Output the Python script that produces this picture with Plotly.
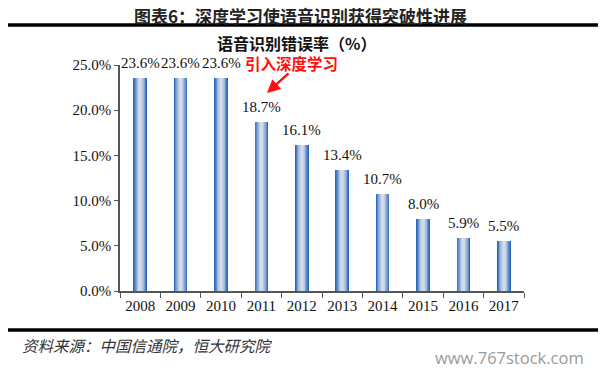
import plotly.graph_objects as go

years = ["2008", "2009", "2010", "2011", "2012", "2013", "2014", "2015", "2016", "2017"]
error_rate = [23.6, 23.6, 23.6, 18.7, 16.1, 13.4, 10.7, 8.0, 5.9, 5.5]
y_ticks = [0, 5, 10, 15, 20, 25]
y_tick_labels = ["0.0%", "5.0%", "10.0%", "15.0%", "20.0%", "25.0%"]

fig = go.Figure()

# simulated horizontal gradient: nested overlaid bars from dark edge to light centre
layers = [
    (0.34, "#2a68bc"),
    (0.30, "#4479c4"),
    (0.26, "#628fcc"),
    (0.22, "#81a4d4"),
    (0.18, "#9db6da"),
    (0.14, "#b4c6df"),
    (0.10, "#c5d2e4"),
    (0.06, "#d2dbe8"),
]
for w, c in layers:
    fig.add_trace(go.Bar(
        x=years, y=error_rate, width=w,
        marker=dict(color=c, line=dict(width=0)),
        hoverinfo="skip", showlegend=False,
    ))

W, H = 607, 374
L, R, T, B = 120, 83, 65, 83

fig.update_layout(
    width=W, height=H,
    margin=dict(l=L, r=R, t=T, b=B),
    paper_bgcolor="white", plot_bgcolor="white",
    barmode="overlay",
    bargap=0,
    font=dict(family="Liberation Serif", size=15, color="#111111"),
)
fig.update_xaxes(
    type="category", range=[-0.5, len(years) - 0.5],
    showline=True, linecolor="#555555", linewidth=1.5,
    ticks="outside", tickson="boundaries", ticklen=5, tickcolor="#555555",
    tickfont=dict(family="Liberation Serif", size=15, color="#111111"),
    showgrid=False, fixedrange=True,
)
fig.update_yaxes(
    range=[0, 25], tickvals=y_ticks, ticktext=y_tick_labels,
    showline=True, linecolor="#555555", linewidth=1.5,
    ticks="outside", ticklen=4, tickcolor="#555555",
    tickfont=dict(family="Liberation Serif", size=15, color="#111111"),
    showgrid=False, zeroline=False, fixedrange=True,
)

# data labels (category index positions)
for i, v in enumerate(error_rate):
    fig.add_annotation(x=i, y=v, xref="x", yref="y", text=f"{v:.1f}%",
                       showarrow=False, yanchor="middle", yshift=15,
                       font=dict(family="Liberation Serif", size=15, color="#111111"))

def paper_xy(px, py):
    # page pixel coords -> paper coords
    pw = W - L - R
    ph = H - T - B
    return (px - L) / pw, (H - B - py) / ph

x0, y0 = paper_xy(300, 15)
fig.add_annotation(text="<b>图表6：深度学习使语音识别获得突破性进展</b>", xref="paper", yref="paper",
                   x=x0, y=y0, xanchor="center", yanchor="middle", showarrow=False,
                   font=dict(family="Noto Sans CJK SC", size=17, color="#222222"))
x0, y0 = paper_xy(296, 43)
fig.add_annotation(text="<b>语音识别错误率（%）</b>", xref="paper", yref="paper",
                   x=x0, y=y0, xanchor="center", yanchor="middle", showarrow=False,
                   font=dict(family="Noto Sans CJK SC", size=16, color="#111111"))
x0, y0 = paper_xy(20, 345)
fig.add_annotation(text="<i>资料来源：中国信通院，恒大研究院</i>", xref="paper", yref="paper",
                   x=x0, y=y0, xanchor="left", yanchor="middle", showarrow=False,
                   font=dict(family="Noto Sans CJK SC", size=15.5, color="#333333"))
x0, y0 = paper_xy(509, 357)
fig.add_annotation(text="www.767stock.com", xref="paper", yref="paper",
                   x=x0, y=y0, xanchor="center", yanchor="middle", showarrow=False,
                   font=dict(family="Open Sans", size=16.5, color="#9a9a9a"))
x0, y0 = paper_xy(291, 63)
fig.add_annotation(text="<b>引入深度学习</b>", xref="paper", yref="paper",
                   x=x0, y=y0, xanchor="center", yanchor="middle", showarrow=False,
                   font=dict(family="Noto Sans CJK SC", size=15.5, color="#ff1010"))
hx, hy = paper_xy(267, 93)
fig.add_annotation(x=hx, y=hy, ax=23, ay=-21, xref="paper", yref="paper",
                   axref="pixel", ayref="pixel", text="", showarrow=True,
                   arrowhead=2, arrowsize=1.1, arrowwidth=2.4, arrowcolor="#ff1010")

# horizontal rules
for py in (25, 330):
    _, yy = paper_xy(0, py)
    xa, _ = paper_xy(8, 0)
    xb, _ = paper_xy(598, 0)
    fig.add_shape(type="line", xref="paper", yref="paper", x0=xa, x1=xb, y0=yy, y1=yy,
                  line=dict(color="#000000", width=3.5))

fig.write_html("out.html", config={"displayModeBar": False},
               post_script="document.body.style.margin='0px';")
